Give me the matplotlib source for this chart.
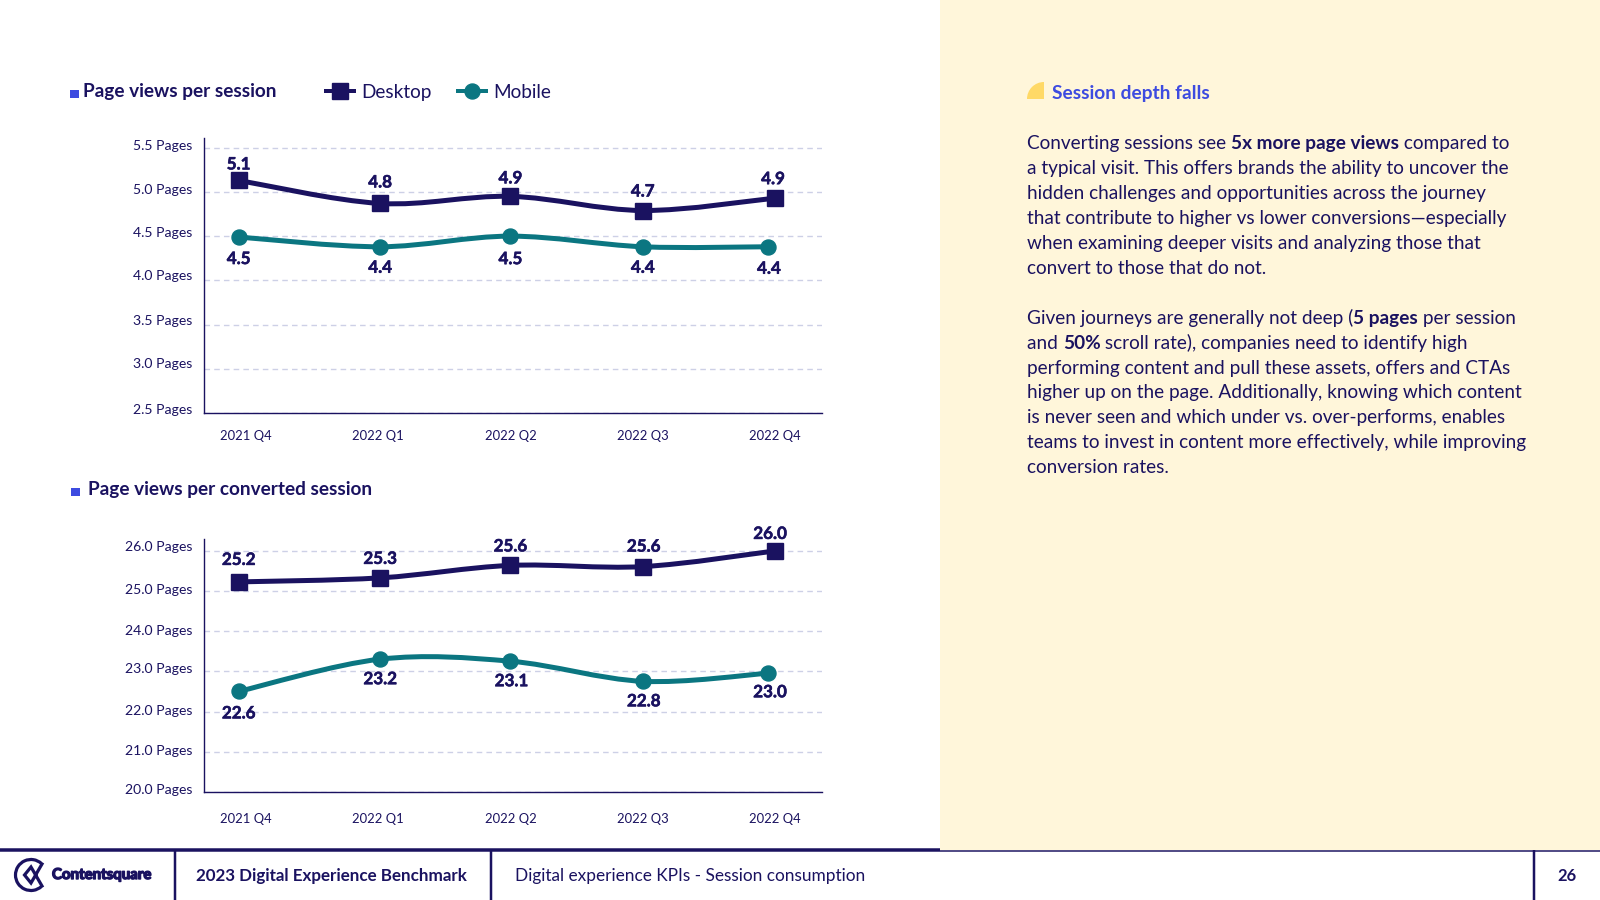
import matplotlib
matplotlib.use('Agg')
import matplotlib.pyplot as plt
from matplotlib.lines import Line2D
from matplotlib.patches import Arc, PathPatch, Rectangle, Wedge
from matplotlib.path import Path
import matplotlib.patheffects as pe

FONT = 'Lato'
NAVY = '#1A1260'
TEAL = '#0B7681'
CREAM = '#FFF6DA'
BLUE = '#3D4BE0'
YELLOW = '#FFD966'
GRID = '#CDD0E6'

plt.rcParams['font.family'] = FONT

quarters = ['2021 Q4', '2022 Q1', '2022 Q2', '2022 Q3', '2022 Q4']
x_desktop = [-0.054, 1.015, 2.0, 3.0, 4.0]
x_mobile = [-0.054, 1.015, 2.0, 3.0, 3.946]

# top chart
top_ticks = [5.5, 5.0, 4.5, 4.0, 3.5, 3.0, 2.5]
top_desktop = [5.13, 4.87, 4.95, 4.79, 4.93]
top_mobile = [4.49, 4.38, 4.50, 4.38, 4.38]
top_desktop_labels = ['5.1', '4.8', '4.9', '4.7', '4.9']
top_mobile_labels = ['4.5', '4.4', '4.5', '4.4', '4.4']

# bottom chart
bottom_ticks = [26, 25, 24, 23, 22, 21, 20]
bottom_desktop = [25.22, 25.32, 25.63, 25.60, 25.99]
bottom_mobile = [22.50, 23.30, 23.25, 22.75, 22.95]
bottom_desktop_labels = ['25.2', '25.3', '25.6', '25.6', '26.0']
bottom_mobile_labels = ['22.6', '23.2', '23.1', '22.8', '23.0']

# text on the right, * toggles bold
body_lines = [
    'Converting sessions see *5x more page views* compared to',
    'a typical visit. This offers brands the ability to uncover the',
    'hidden challenges and opportunities across the journey',
    'that contribute to higher vs lower conversions\u2014especially',
    'when examining deeper visits and analyzing those that',
    'convert to those that do not.',
    None,
    'Given journeys are generally not deep (*5 pages* per session',
    'and *50%* scroll rate), companies need to identify high',
    'performing content and pull these assets, offers and CTAs',
    'higher up on the page. Additionally, knowing which content',
    'is never seen and which under vs. over-performs, enables',
    'teams to invest in content more effectively, while improving',
    'conversion rates.',
]


def pts(px):
    return px * 0.72


def smooth_path(xs, ys):
    # catmull-rom through the values, same look as the smoothed lines in the slide
    verts = [(xs[0], ys[0])]
    codes = [Path.MOVETO]
    n = len(xs)
    for i in range(n - 1):
        a = max(i - 1, 0)
        b = min(i + 2, n - 1)
        verts.append((xs[i] + (xs[i + 1] - xs[a]) / 6, ys[i] + (ys[i + 1] - ys[a]) / 6))
        verts.append((xs[i + 1] - (xs[b] - xs[i]) / 6, ys[i + 1] - (ys[b] - ys[i]) / 6))
        verts.append((xs[i + 1], ys[i + 1]))
        codes += [Path.CURVE4, Path.CURVE4, Path.CURVE4]
    return Path(verts, codes)


def draw_chart(box, ticks, ylim, desktop, mobile, d_labels, m_labels, d_off, m_off, tick_off, xlab_pad):
    left, top, right, bottom = box
    ax = fig.add_axes([left / 1600, 1 - bottom / 900, (right - left) / 1600, (bottom - top) / 900])
    ax.patch.set_alpha(0)
    ax.set_xlim(-0.316, 4.355)
    ax.set_ylim(*ylim)
    for s in ['top', 'right']:
        ax.spines[s].set_visible(False)
    for s in ['left', 'bottom']:
        ax.spines[s].set_color(NAVY)
        ax.spines[s].set_linewidth(1.0)
    ax.set_xticks(range(5))
    ax.set_xticklabels(quarters, fontsize=pts(13), color=NAVY)
    ax.tick_params(axis='x', length=0, pad=xlab_pad)
    ax.set_yticks(ticks)
    ax.set_yticklabels([])
    ax.tick_params(axis='y', length=0)
    ax.grid(axis='y', color=GRID, linestyle=(0, (4, 3)), linewidth=1.0)
    ax.set_axisbelow(True)

    for v, off in zip(ticks, tick_off):
        ax.annotate('%.1f Pages' % v, xy=(0, v), xycoords=ax.get_yaxis_transform(),
                    xytext=(pts(-12), pts(off)), textcoords='offset points',
                    ha='right', va='center', fontsize=pts(14), color=NAVY)

    ax.add_patch(PathPatch(smooth_path(x_desktop, desktop), fill=False, edgecolor=NAVY, linewidth=pts(5), zorder=3))
    ax.add_patch(PathPatch(smooth_path(x_mobile, mobile), fill=False, edgecolor=TEAL, linewidth=pts(5), zorder=3))
    ax.plot(x_desktop, desktop, linestyle='none', marker='s', markersize=pts(16), color=NAVY, zorder=4)
    ax.plot(x_mobile, mobile, linestyle='none', marker='o', markersize=pts(15), color=TEAL, zorder=4)

    heavy = [pe.withStroke(linewidth=0.4, foreground=NAVY)]
    for x, y, t, off in zip(x_desktop, desktop, d_labels, d_off):
        ax.annotate(t, xy=(x, y), xytext=(pts(off[0]), pts(off[1])), textcoords='offset points',
                    ha='center', va='center', fontsize=pts(17), fontweight='bold', color=NAVY, zorder=5,
                    path_effects=heavy)
    for x, y, t, off in zip(x_mobile, mobile, m_labels, m_off):
        ax.annotate(t, xy=(x, y), xytext=(pts(off[0]), pts(off[1])), textcoords='offset points',
                    ha='center', va='center', fontsize=pts(17), fontweight='bold', color=NAVY, zorder=5,
                    path_effects=heavy)
    return ax


def rich_line(ax, x, y, line, size):
    # draw piece after piece, measuring how far each one goes
    renderer = fig.canvas.get_renderer()
    bold = False
    for part in line.split('*'):
        if part:
            t = ax.text(x, y, part, fontsize=pts(size), color=NAVY, va='center', ha='left',
                        fontweight='bold' if bold else 'normal')
            x += t.get_window_extent(renderer).width
        bold = not bold


fig = plt.figure(figsize=(16, 9), dpi=100)

# page layer in pixel coordinates
page = fig.add_axes([0, 0, 1, 1], zorder=-1)
page.set_xlim(0, 1600)
page.set_ylim(900, 0)
page.axis('off')

page.add_patch(Rectangle((940, 0), 660, 850, color=CREAM, linewidth=0))
page.plot([0, 940], [849.5, 849.5], color=NAVY, linewidth=pts(3.5), solid_capstyle='butt')
page.plot([940, 1600], [850.5, 850.5], color=NAVY, linewidth=pts(1.5), solid_capstyle='butt')
for xv in [174.5, 491, 1534]:
    page.plot([xv, xv], [850, 900], color=NAVY, linewidth=pts(2.5), solid_capstyle='butt')

# logo
page.add_patch(Arc((31, 875), 31, 31, theta1=48, theta2=312, color=NAVY, linewidth=pts(3.2)))
page.plot([42, 31, 24.5, 31, 42], [864, 883, 875, 867, 886], color=NAVY, linewidth=pts(3.2), solid_joinstyle='miter')
page.text(52, 875, 'Contentsquare', fontsize=pts(15), fontweight='bold', color=NAVY, va='center',
          path_effects=[pe.withStroke(linewidth=1.0, foreground=NAVY)])

page.text(196, 876, '2023 Digital Experience Benchmark', fontsize=pts(17), fontweight='bold', color=NAVY, va='center')
page.text(515, 876, 'Digital experience KPIs - Session consumption', fontsize=pts(17.3), color=NAVY, va='center')
page.text(1567, 876, '26', fontsize=pts(16.5), fontweight='bold', color=NAVY, va='center', ha='center')

# chart titles
page.add_patch(Rectangle((70, 90), 8.5, 8, color=BLUE, linewidth=0))
page.text(83, 92, 'Page views per session', fontsize=pts(19), fontweight='bold', color=NAVY, va='center')
page.add_patch(Rectangle((71, 488), 8.5, 8, color=BLUE, linewidth=0))
page.text(88, 490, 'Page views per converted session', fontsize=pts(19), fontweight='bold', color=NAVY, va='center')

handles = [Line2D([], [], color=NAVY, linewidth=pts(4), marker='s', markersize=pts(16)),
           Line2D([], [], color=TEAL, linewidth=pts(4), marker='o', markersize=pts(15))]
fig.legend(handles, ['Desktop', 'Mobile'], ncols=2, frameon=False, loc='center left',
           bbox_to_anchor=(0.193, 1 - 92.5 / 900), fontsize=pts(19), labelcolor=NAVY,
           handlelength=1.49, handletextpad=0.35, columnspacing=1.4)

# right panel
page.add_patch(Wedge((1044, 99), 17, 180, 270, color=YELLOW, linewidth=0))
page.text(1052, 93, 'Session depth falls', fontsize=pts(19.2), fontweight='bold', color=BLUE, va='center')

fig.canvas.draw()
y = 144
for line in body_lines:
    if line is not None:
        rich_line(page, 1027, y, line, 19)
    y += 24.9

draw_chart((204, 138, 822, 413), top_ticks, (2.5, 5.61),
           top_desktop, top_mobile, top_desktop_labels, top_mobile_labels,
           [(0, 16), (0, 21), (0, 18), (0, 19), (-2, 19)],
           [(0, -22), (0, -21), (0, -23), (0, -21), (1, -22)],
           [2, 2, 3, 4, 4, 5, 3], 12)

draw_chart((204, 539, 822, 792), bottom_ticks, (20, 26.286),
           bottom_desktop, bottom_mobile, bottom_desktop_labels, bottom_mobile_labels,
           [(0, 22), (0, 19), (0, 19), (1, 20), (-5, 17)],
           [(0, -22), (0, -20), (1, -20), (1, -20), (2, -19)],
           [4, 1, 0.5, 2.2, 0.8, 0.9, 2], 15)

fig.savefig('out.png', dpi=100)
